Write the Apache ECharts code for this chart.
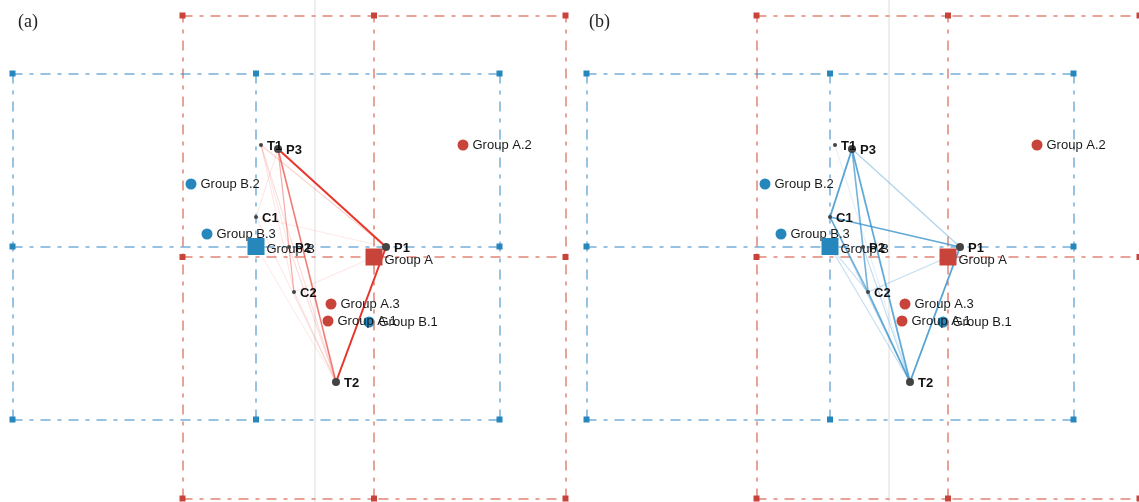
<!DOCTYPE html>
<html><head><meta charset="utf-8">
<script src="https://cdn.jsdelivr.net/npm/echarts@6/dist/echarts.min.js"></script>
<style>html,body{margin:0;padding:0;background:#fff}#c{width:1139px;height:502px}</style>
</head><body><div id="c"></div>
<script>
// ---- data ----
const panelNames = ['(a)', '(b)'];
const groupNames = ['Group A', 'Group B'];
const groupX = [0.59, -0.59];
const groupY = [-0.05, 0.055];
const spreadX = [1.915, 2.435];
const spreadY = [2.415, 1.73];
const subNames = ['Group A.1', 'Group A.2', 'Group A.3', 'Group B.1', 'Group B.2', 'Group B.3'];
const subX = [0.13, 1.48, 0.16, 0.54, -1.24, -1.08];
const subY = [-0.69, 1.07, -0.52, -0.70, 0.68, 0.18];
const subGroup = [0, 0, 0, 1, 1, 1];
const nodeNames = ['T1', 'P3', 'C1', 'P2', 'P1', 'C2', 'T2'];
const nodeX = [-0.54, -0.37, -0.59, -0.26, 0.71, -0.21, 0.21];
const nodeY = [1.07, 1.03, 0.35, 0.05, 0.05, -0.40, -1.30];
const nodeMajor = [0, 1, 0, 0, 1, 0, 1];
// edges: [from, to, weight]
const edgesA = [
  ['P3', 'P1', 1.0], ['P1', 'T2', 1.0], ['P3', 'T2', 0.65], ['P3', 'C2', 0.4],
  ['T1', 'P1', 0.22], ['T1', 'T2', 0.18], ['T1', 'C2', 0.14], ['C1', 'P3', 0.14],
  ['C1', 'P1', 0.12], ['C1', 'T2', 0.14], ['C2', 'T2', 0.18], ['C2', 'Group A', 0.14],
  ['P2', 'T2', 0.18], ['Group B', 'T2', 0.12], ['T1', 'P2', 0.14]
];
const edgesB = [
  ['P3', 'C1', 0.85], ['C1', 'P1', 0.8], ['P3', 'P1', 0.4], ['P3', 'T2', 0.8],
  ['P3', 'C2', 0.7], ['C1', 'C2', 0.7], ['C2', 'T2', 0.8], ['P1', 'T2', 0.85],
  ['C2', 'Group A', 0.3], ['C1', 'T2', 0.35], ['Group B', 'T2', 0.3], ['P2', 'T2', 0.3],
  ['T1', 'T2', 0.15], ['Group B', 'C2', 0.3]
];

// ---- styles ----
const RED = '#c8433a', BLUE = '#2687bd';
const frameColor = ['rgba(214,90,70,0.75)', 'rgba(70,145,200,0.75)'];
const edgeColor = ['#e8352a', '#3a93cc'];
const dash = [10, 7, 4, 7];
const FONT = 'Liberation Sans, Arial, sans-serif';

const pos = {};
groupNames.forEach((n, i) => pos[n] = [groupX[i], groupY[i]]);
nodeNames.forEach((n, i) => pos[n] = [nodeX[i], nodeY[i]]);

const series = [];
const grids = [], xAxes = [], yAxes = [];
[0, 1].forEach(p => {
  grids.push({ left: p === 0 ? 0 : 574, top: 0, width: p === 0 ? 569 : 565, height: 502 });
  xAxes.push({ gridIndex: p, type: 'value', min: -3.15, max: p === 0 ? 2.54 : 2.50,
    axisLine: { show: false }, axisTick: { show: false }, axisLabel: { show: false }, splitLine: { show: false } });
  yAxes.push({ gridIndex: p, type: 'value', min: -2.50, max: 2.52,
    axisLine: { show: true, onZero: true, lineStyle: { color: '#e9e9e9', width: 1.5 } },
    axisTick: { show: false }, axisLabel: { show: false }, splitLine: { show: false } });

  // frames
  [0, 1].forEach(g => {
    const cx = groupX[g], cy = groupY[g], hx = spreadX[g], hy = spreadY[g];
    const xs = [cx - hx, cx, cx + hx], ys = [cy - hy, cy, cy + hy];
    const segs = [];
    xs.forEach(x => segs.push({ coords: [[x, ys[0]], [x, ys[2]]] }));
    ys.forEach(y => segs.push({ coords: [[xs[0], y], [xs[2], y]] }));
    series.push({ type: 'lines', coordinateSystem: 'cartesian2d', xAxisIndex: p, yAxisIndex: p,
      polyline: false, silent: true, z: 1, clip: false,
      lineStyle: { color: frameColor[g], width: 1.5, type: dash, opacity: 1 }, data: segs });
    const marks = [];
    xs.forEach(x => ys.forEach(y => { if (!(x === cx && y === cy)) marks.push([x, y]); }));
    series.push({ type: 'scatter', xAxisIndex: p, yAxisIndex: p, symbol: 'rect', symbolSize: 6, z: 2,
      clip: false, itemStyle: { color: g === 0 ? RED : BLUE, opacity: 1 }, data: marks, silent: true });
  });

  // edges
  const edges = p === 0 ? edgesA : edgesB;
  series.push({ type: 'lines', coordinateSystem: 'cartesian2d', xAxisIndex: p, yAxisIndex: p, z: 3, silent: true,
    data: edges.map(e => ({ coords: [pos[e[0]], pos[e[1]]],
      lineStyle: { color: edgeColor[p], opacity: e[2], width: 0.8 + 1.2 * e[2] } })) });

  // sub-group points
  series.push({ type: 'scatter', xAxisIndex: p, yAxisIndex: p, symbol: 'circle', symbolSize: 11, z: 5,
    data: subNames.map((n, i) => ({ name: n, value: [subX[i], subY[i]],
      itemStyle: { color: subGroup[i] === 0 ? RED : BLUE, opacity: 1 } })),
    label: { show: true, position: 'right', distance: 4, formatter: '{b}', color: '#1a1a1a',
      fontFamily: FONT, fontSize: 13 } });
  // group squares
  series.push({ type: 'scatter', xAxisIndex: p, yAxisIndex: p, symbol: 'rect', symbolSize: 17, z: 6,
    data: groupNames.map((n, i) => ({ name: n, value: [groupX[i], groupY[i]],
      itemStyle: { color: i === 0 ? RED : BLUE, opacity: 1 } })),
    label: { show: true, position: 'right', distance: 2, offset: [0, 3], formatter: '{b}', color: '#1a1a1a',
      fontFamily: FONT, fontSize: 13 } });
  // nodes
  series.push({ type: 'scatter', xAxisIndex: p, yAxisIndex: p, symbol: 'circle', z: 7,
    data: nodeNames.map((n, i) => ({ name: n, value: [nodeX[i], nodeY[i]],
      symbolSize: nodeMajor[i] ? 8 : 4 })),
    itemStyle: { color: '#444', opacity: 1 },
    label: { show: true, position: 'right', distance: 4, offset: [0, 1], formatter: '{b}', color: '#111',
      fontFamily: FONT, fontSize: 13, fontWeight: 'bold' } });
});

const chart = echarts.init(document.getElementById('c'), null, { renderer: 'canvas' });
chart.setOption({
  animation: false,
  backgroundColor: '#fff',
  grid: grids, xAxis: xAxes, yAxis: yAxes, series: series,
  graphic: panelNames.map((t, i) => ({ type: 'text', left: i === 0 ? 18 : 589, top: 13, z: 100,
    style: { text: t, fill: '#222', font: '18px "Liberation Serif", "DejaVu Serif", serif' } }))
});
</script>
</body></html>
